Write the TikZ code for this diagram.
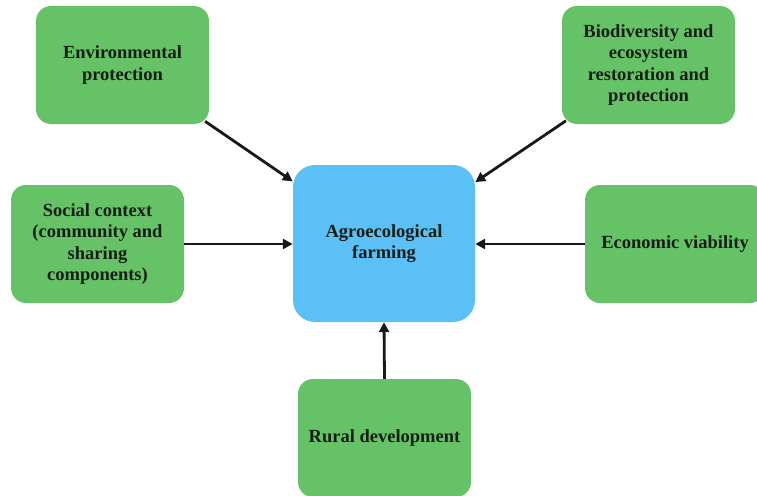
\documentclass[tikz,border=0pt]{standalone}
\usepackage{fontspec}
\setmainfont{Liberation Serif}
\usetikzlibrary{arrows.meta,calc}
\definecolor{boxgreen}{RGB}{102,194,102}
\definecolor{boxblue}{RGB}{90,192,245}
\definecolor{txt}{RGB}{20,30,20}
\tikzset{
  gbox/.style={fill=boxgreen, rounded corners=15pt, minimum width=173pt, minimum height=118pt,
    align=center, inner sep=4pt, text=txt, font=\fontsize{18.5}{21.5}\selectfont\bfseries},
  cbox/.style={fill=boxblue, rounded corners=22pt, minimum width=182pt, minimum height=157pt,
    align=center, text=txt, font=\fontsize{18.5}{21.5}\selectfont\bfseries},
  conn/.style={line width=2.8pt, draw=black!90, -{Triangle[length=10pt,width=10pt]}}
}
\begin{document}
\begin{tikzpicture}[x=1pt,y=-1pt]
\useasboundingbox (0,0) rectangle (757,495);
\clip (0,0) rectangle (757,495);
\node[gbox] (env) at (122.5,65) {Environmental\\protection};
\node[gbox] (bio) at (648.5,65) {Biodiversity and\\ecosystem\\restoration and\\protection};
\node[gbox] (soc) at (97.5,244) {Social context\\(community and\\sharing\\components)};
\node[cbox] (cen) at (384,243.5) {Agroecological\\farming};
\node[gbox, minimum width=180pt] (eco) at (675,244) {Economic viability};
\node[gbox] (rur) at (384.5,438) {Rural development};
\draw[conn, shorten <=-5pt] (env) -- (cen);
\draw[conn, shorten <=-5pt] (bio) -- (cen);
\draw[conn] (soc.east) -- (cen.west |- soc.east);
\draw[conn] (eco.west) -- (cen.east |- eco.west);
\draw[conn] (rur.north) -- (cen.south);
\end{tikzpicture}
\end{document}
